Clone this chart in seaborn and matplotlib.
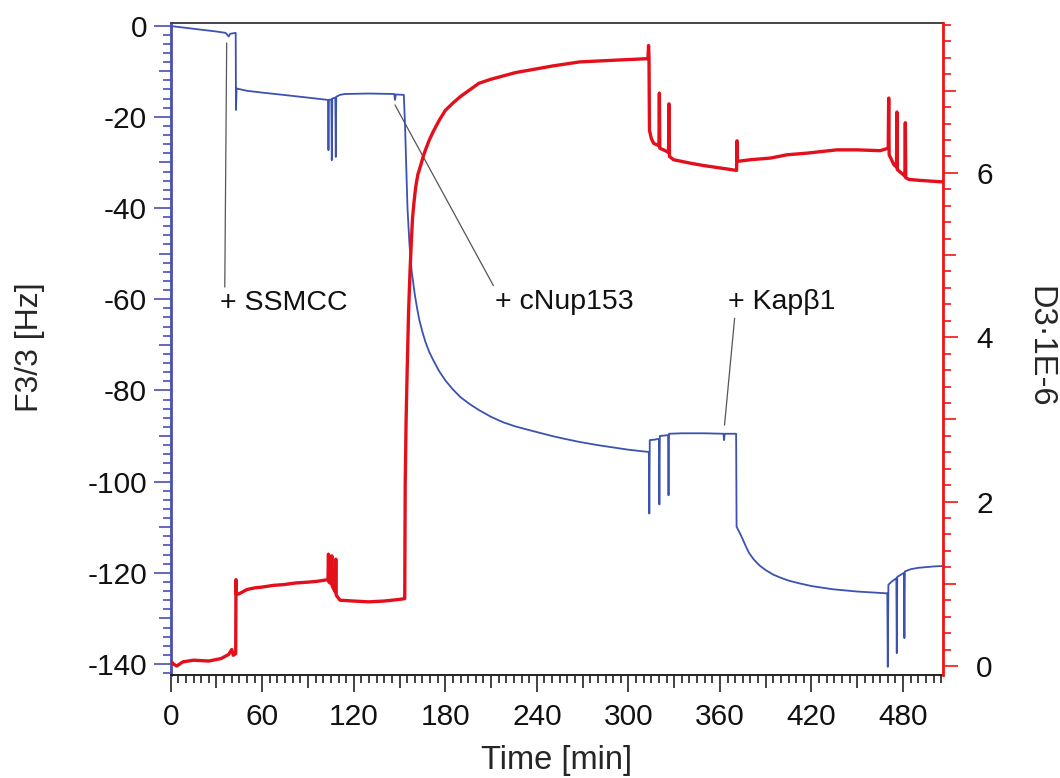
import matplotlib
matplotlib.use("Agg")
import matplotlib.pyplot as plt
import seaborn as sns
import pandas as pd
from matplotlib.ticker import MultipleLocator, FuncFormatter

# ---------------- data ----------------
blue_t = [0, 10, 20, 30, 36, 38, 39, 42.6, 42.8, 43.2, 50, 60, 74, 90, 103.1,
          103.4, 103.7, 105.3, 105.6, 105.9, 107.9, 108.2, 108.5, 111, 114, 130,
          146.5, 147, 147.6, 152.8, 153.6, 154.4, 155.2, 156.5, 158, 160, 161.5,
          163, 165, 167, 169.5, 172, 176, 180, 185, 190, 196, 202, 210, 218, 226,
          235, 250, 258, 268, 280, 290, 300, 313.4, 313.7, 314.0, 317, 320.0,
          320.3, 320.6, 326.0, 326.3, 326.6, 335, 350, 362.3, 362.7, 363.1, 370.6,
          370.9, 372, 373.5, 375, 377, 379, 382, 386, 390, 395, 400, 405, 412, 420,
          434, 450, 460, 469.7, 470.0, 470.4, 473, 475.6, 475.9, 476.2, 480.6,
          480.9, 481.2, 485, 490, 500, 506]
blue_f = [-0.1, -0.5, -0.9, -1.3, -1.6, -2.4, -1.8, -1.6, -18.5, -13.8, -14.3,
          -14.7, -15.2, -15.8, -16.3, -27.3, -16.3, -16.2, -29.5, -16.0, -15.8,
          -28.8, -15.6, -15.2, -15.0, -14.9, -15.0, -16.3, -15.1, -15.2, -22.0,
          -31.0, -40.0, -48.0, -54.0, -59.0, -62.0, -64.6, -67.2, -69.4, -71.6,
          -73.3, -75.8, -77.8, -79.8, -81.5, -83.0, -84.3, -85.8, -87.0, -87.9,
          -88.7, -90.0, -90.6, -91.3, -92.0, -92.5, -93.0, -93.5, -107.0, -90.9,
          -90.8, -90.6, -105.0, -90.0, -89.8, -103.0, -89.5, -89.4, -89.4, -89.5,
          -90.9, -89.5, -89.5, -109.9, -110.6, -111.6, -112.7, -114.2, -115.6,
          -117.0, -118.4, -119.4, -120.4, -121.1, -121.7, -122.3, -122.9, -123.6,
          -124.1, -124.3, -124.5, -140.6, -122.6, -121.8, -121.2, -137.6, -120.9,
          -120.0, -134.3, -119.7, -119.2, -118.9, -118.6, -118.5]

red_t = [0, 2, 4, 8, 15, 25, 33, 38, 40, 41, 42.6, 42.8, 43.1, 45, 50, 55, 60,
         67, 74, 82, 90, 96, 103.1, 103.4, 103.7, 105.3, 105.6, 105.9, 107.9,
         108.2, 108.5, 111, 120, 130, 140, 150, 153.4, 153.7, 154.3, 155, 155.9,
         156.9, 157.7, 158.5, 159.5, 160.6, 162, 164, 165.5, 167, 169.5, 172, 176,
         180, 185, 190, 196, 202, 210, 218, 226, 235, 250, 268, 290, 312.8, 313.2,
         313.5, 313.8, 315, 316.5, 320.0, 320.3, 320.6, 323, 326.3, 326.6, 326.9,
         329.6, 340, 349, 360, 370.9, 371.2, 371.5, 380, 393, 404, 417, 436.6,
         450, 465, 470.3, 470.6, 470.9, 474, 475.7, 476.0, 476.3, 480, 481.2,
         481.5, 481.8, 484, 490, 506]
red_d = [0.06, 0.02, 0.0, 0.05, 0.07, 0.06, 0.09, 0.14, 0.2, 0.13, 0.15, 1.05,
         0.87, 0.88, 0.93, 0.95, 0.96, 0.98, 0.99, 1.01, 1.02, 1.03, 1.05, 1.36,
         1.02, 1.0, 1.34, 0.97, 0.9, 1.3, 0.86, 0.80, 0.79, 0.78, 0.79, 0.81, 0.82,
         2.2, 3.0, 3.6, 4.3, 4.82, 5.15, 5.45, 5.65, 5.83, 5.98, 6.1, 6.2, 6.28,
         6.4, 6.5, 6.64, 6.76, 6.85, 6.93, 7.01, 7.09, 7.14, 7.18, 7.22, 7.25,
         7.3, 7.35, 7.37, 7.39, 7.55, 7.4, 6.52, 6.42, 6.36, 6.33, 6.97, 6.30,
         6.28, 6.25, 6.84, 6.2, 6.16, 6.12, 6.09, 6.06, 6.03, 6.39, 6.14, 6.16,
         6.18, 6.22, 6.24, 6.28, 6.28, 6.27, 6.30, 6.91, 6.22, 6.1, 6.07, 6.74,
         6.04, 5.98, 5.96, 6.61, 5.94, 5.92, 5.91, 5.89]

annot_text = ["+ SSMCC", "+ cNup153", "+ Kapβ1"]
annot_xy = [(36.7, -3.8), (147.0, -17.4), (363.0, -87.6)]
annot_txt_xy = [(32.5, -60.9), (212.7, -60.6), (365.6, -60.6)]

x_label = "Time [min]"
y_left_label = "F3/3 [Hz]"
y_right_label = "D3·1E-6"

# ---------------- style ----------------
BLUE = "#3b52b2"
BLUE_AX = "#4a4fb0"
RED = "#e3101b"
RED_AX = "#f01414"

sns.set_style("ticks")
plt.rcParams['font.family'] = ['Liberation Sans', 'DejaVu Sans']
plt.rcParams['font.size'] = 21

W, H = 1060, 778
fig = plt.figure(figsize=(W / 100, H / 100), dpi=100)
x0, x1, ytop, ybot = 170.7, 942.7, 23.3, 675.0
ax = fig.add_axes([x0 / W, 1 - ybot / H, (x1 - x0) / W, (ybot - ytop) / H])
ax2 = ax.twinx()

blue_df = pd.DataFrame({"t": blue_t, "f": blue_f})
red_df = pd.DataFrame({"t": red_t, "d": red_d})
sns.lineplot(data=blue_df, x="t", y="f", ax=ax, color=BLUE, lw=1.3,
             sort=False, estimator=None)
sns.lineplot(data=red_df, x="t", y="d", ax=ax2, color=RED, lw=2.4,
             sort=False, estimator=None)

ax.set_xlim(0, 506)
ax.set_ylim(-142.4, 0.5)
ax2.set_ylim(-0.11, 7.82)


def fmt(big):
    def f(v, p):
        r = v / big
        if abs(r - round(r)) < 1e-6:
            return f"{v + 0:g}"
        return ""
    return FuncFormatter(f)


ax.xaxis.set_major_locator(MultipleLocator(30))
ax.xaxis.set_minor_locator(MultipleLocator(5))
ax.xaxis.set_major_formatter(fmt(60))
ax.yaxis.set_major_locator(MultipleLocator(10))
ax.yaxis.set_minor_locator(MultipleLocator(2))
ax.yaxis.set_major_formatter(fmt(20))
ax2.yaxis.set_major_locator(MultipleLocator(1))
ax2.yaxis.set_minor_locator(MultipleLocator(0.2))
ax2.yaxis.set_major_formatter(fmt(2))

MAJ, MED, MIN = 12, 9, 5.5
ax.tick_params(axis='y', which='both', direction='out', color=BLUE_AX,
               width=1.2, labelsize=21.5, pad=5, labelcolor='#111111')
ax.tick_params(axis='y', which='major', length=MAJ)
ax.tick_params(axis='y', which='minor', length=MIN)
ax.tick_params(axis='x', which='both', direction='out', color='#222222',
               width=1.2, labelsize=21.5, pad=8, labelcolor='#111111')
ax.tick_params(axis='x', which='major', length=MAJ)
ax.tick_params(axis='x', which='minor', length=MIN)
ax2.tick_params(axis='y', which='both', direction='out', color=RED_AX,
                width=1.2, labelsize=21.5, pad=13, labelcolor='#111111')
ax2.tick_params(axis='y', which='major', length=MAJ - 1)
ax2.tick_params(axis='y', which='minor', length=MIN)

for s in ['top', 'right']:
    ax.spines[s].set_visible(s == 'top')
ax.spines['top'].set_color('#444444')
ax.spines['top'].set_linewidth(1.4)
ax.spines['left'].set_color(BLUE_AX)
ax.spines['left'].set_linewidth(2.0)
ax.spines['bottom'].set_color('#222222')
ax.spines['bottom'].set_linewidth(1.4)
for s in ['top', 'left', 'bottom']:
    ax2.spines[s].set_visible(False)
ax2.spines['right'].set_color(RED_AX)
ax2.spines['right'].set_linewidth(2.0)

ax.set_xlabel(x_label, fontsize=23.5, va='center')
ax.set_ylabel(y_left_label, fontsize=23, va='center')
ax2.set_ylabel(y_right_label, fontsize=23.5, va='center', rotation=-90)
ax.xaxis.set_label_coords(0.5, -(761 - ybot) / (ybot - ytop))
ax.yaxis.set_label_coords((30 - x0) / (x1 - x0), (ybot - 347) / (ybot - ytop))
ax2.yaxis.set_label_coords((1040 - x0) / (x1 - x0), (ybot - 347) / (ybot - ytop))

relpos = [(0.035, 1.0), (0.0, 1.0), (0.06, 0.0)]
for txt, xy, xyt, rp in zip(annot_text, annot_xy, annot_txt_xy, relpos):
    ax.annotate(txt, xy=xy, xytext=xyt, ha='left', va='center', fontsize=20.5,
                color='#111111',
                arrowprops=dict(arrowstyle='-', color='#555555', lw=0.9,
                                shrinkA=0, shrinkB=0, relpos=rp))

ax.set_zorder(ax2.get_zorder() - 1)
ax2.patch.set_visible(False)

fig.canvas.draw()


def medium(axis, big, line):
    for tk in axis.get_major_ticks():
        v = tk.get_loc()
        if v is None:
            continue
        r = v / big
        if abs(r - round(r)) > 1e-6:
            getattr(tk, line).set_markersize(MED)


medium(ax.xaxis, 60, 'tick1line')
medium(ax.yaxis, 20, 'tick1line')
medium(ax2.yaxis, 2, 'tick2line')

fig.savefig("out.png", dpi=100, facecolor='white')
